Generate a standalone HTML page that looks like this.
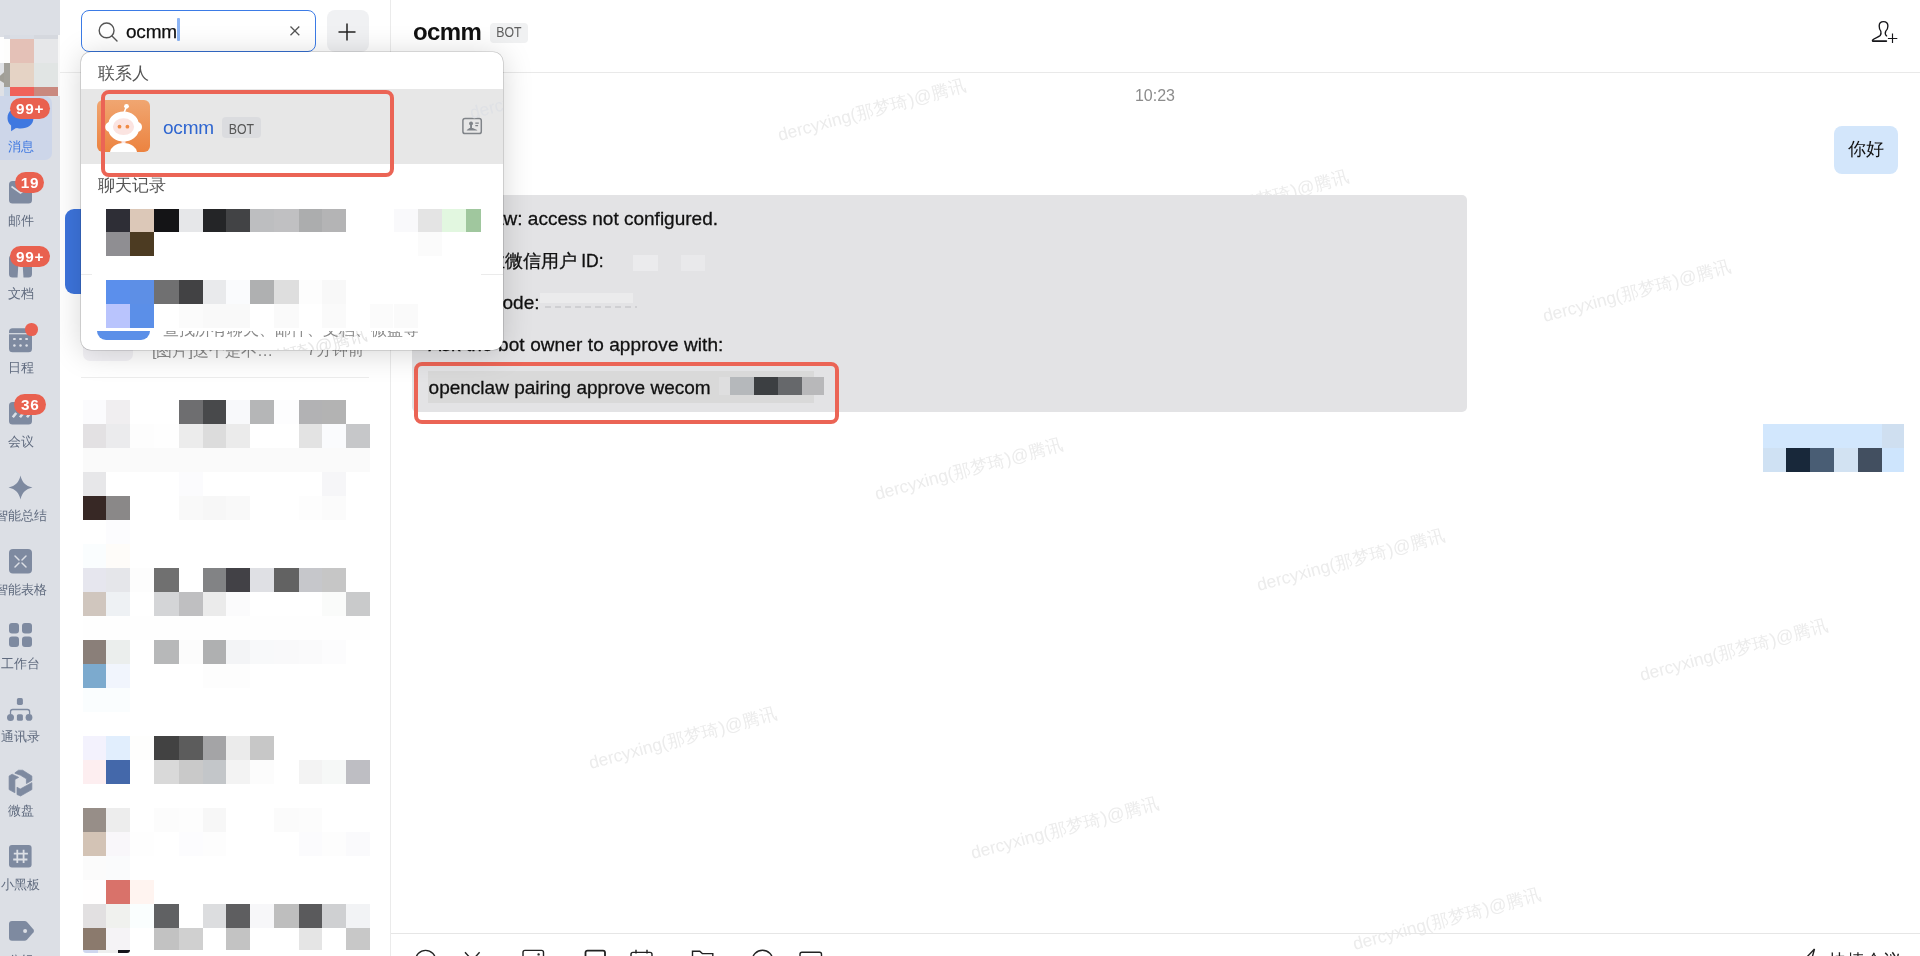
<!DOCTYPE html>
<html lang="zh"><head><meta charset="utf-8"><title>ocmm</title>
<style>
html,body{margin:0;padding:0}
body{width:1920px;height:956px;position:relative;overflow:hidden;background:#fff;will-change:transform;font-family:"Liberation Sans",sans-serif;color:#111}
.abs{position:absolute}
.c{position:absolute;display:block}
#side{position:absolute;left:0;top:0;width:60px;height:956px;background:#dcdfe5;overflow:hidden}
.sel{position:absolute;left:-8px;top:96px;width:60px;height:64px;border-radius:7px;background:#cdd6e9}
.lb{position:absolute;left:-40px;width:121px;text-align:center;font-size:13px;line-height:18px;white-space:nowrap}
.bdb{position:absolute;height:20.8px;border-radius:10.5px;background:#e9614f}
.bd{position:absolute;height:20.8px;color:#fff;font-weight:bold;font-size:15.3px;line-height:22px;text-align:center;letter-spacing:.75px;text-indent:.4px}
#list{position:absolute;left:60px;top:0;width:330px;height:956px;background:#fff;border-right:1px solid #ebebeb}
.wm{position:absolute;width:220px;text-align:center;font-size:17.5px;line-height:20px;color:#ececec;transform:rotate(-15deg);white-space:nowrap}
#popup{position:absolute;left:81px;top:52px;width:422px;height:298px;border-radius:10px;background:#fff;box-shadow:0 3px 30px rgba(0,0,0,.17),0 0 0 .6px rgba(0,0,0,.22);overflow:hidden}
.redbox{position:absolute;border:4.1px solid #eb6455;border-radius:8px;box-sizing:border-box}
.sec{position:absolute;left:17px;font-size:17px;line-height:22px;color:#555}
.bot{position:absolute;font-size:14.3px;text-align:center;color:#555;transform:scaleX(.86)}
#bubble{position:absolute;left:412px;top:195px;width:1055px;height:216.5px;border-radius:5px;background:#e3e3e5}
.ln{position:absolute;left:16.6px;font-size:19px;line-height:24px;white-space:nowrap;color:#111;-webkit-text-stroke:.3px #111}
.ln b{font-weight:normal;font-size:18px}
</style></head><body>

<!-- chat area -->
<div class="abs" style="left:391px;top:72px;width:1529px;height:1px;background:#e9e9e9"></div>
<div class="abs" style="left:413px;top:17px;font-size:24px;line-height:30px;font-weight:bold;letter-spacing:-.6px;color:#111">ocmm</div>
<div class="abs" style="left:490px;top:22.5px;width:38px;height:20px;border-radius:4px;background:#f0f1f2"></div><div class="bot" style="left:490px;top:22.3px;width:38px;height:20px;line-height:20px;color:#606060">BOT</div>
<svg class="abs" style="left:1860px;top:10px" width="50" height="45" viewBox="0 0 50 45" fill="none" stroke="#16161a" stroke-linecap="round" stroke-linejoin="round"><path d="M26.6 25.4 C25.2 24 25.1 22 25.7 20.7 C27.2 19.5 27.9 17.5 27.9 15.5 C27.9 12.8 26.3 11.1 23.5 11.1 C20.7 11.1 19.2 12.8 19.2 15.5 C19.2 17.5 19.6 19.3 20.8 20.6 C21.3 22.5 21 24 20.2 25 C18.5 26.8 14 27.5 12.5 29.6 Q12.2 30.9 13.6 30.9" stroke-width="1.35" transform="translate(0 .5)"/><path d="M13.4 31.1 L26.3 31.1" stroke-width="1.8"/><path d="M27.9 28.5 L37.3 28.5 M32.5 23.4 L32.5 33.1" stroke-width="1.15" stroke-linecap="butt"/></svg>
<div class="abs" style="left:1105px;top:86.8px;width:100px;text-align:center;font-size:16px;line-height:18px;color:#8c8c8c">10:23</div>
<div class="wm" style="left:762.4px;top:100.2px">dercyxing(那梦琦)@腾讯</div><div class="wm" style="left:1144.8px;top:190.7px">dercyxing(那梦琦)@腾讯</div><div class="wm" style="left:1527.2px;top:281.2px">dercyxing(那梦琦)@腾讯</div><div class="wm" style="left:858.7px;top:459.3px">dercyxing(那梦琦)@腾讯</div><div class="wm" style="left:1241.1px;top:549.8px">dercyxing(那梦琦)@腾讯</div><div class="wm" style="left:1623.5px;top:640.3px">dercyxing(那梦琦)@腾讯</div><div class="wm" style="left:572.6px;top:727.9px">dercyxing(那梦琦)@腾讯</div><div class="wm" style="left:955.0px;top:818.4px">dercyxing(那梦琦)@腾讯</div><div class="wm" style="left:1337.4px;top:908.9px">dercyxing(那梦琦)@腾讯</div>
<div class="abs" style="left:1834px;top:126px;width:64px;height:47.5px;border-radius:8px;background:#d3e6fb"></div><div class="abs" style="left:1834px;top:126px;width:64px;height:47.5px;text-align:center;font-size:18px;line-height:47px;color:#111">你好</div>

<div id="bubble">
  <div class="ln" style="top:12.1px">OpenClaw: access not configured.</div>
  <div class="ln" style="top:54.2px;left:auto;right:890.2px"><b>您的企业微信用户</b></div>
  <div class="ln" style="top:54.2px;left:169.2px;font-size:17.5px">ID:</div>
  <div class="ln" style="top:96.3px">Pairing code:</div>
  <div class="ln" style="top:138.4px;letter-spacing:.1px">Ask the bot owner to approve with:</div>
  <div class="abs" style="left:16px;top:176.3px;width:385.5px;height:31.9px;background:#d9d9d9"></div>
  <div class="ln" style="top:180.6px">openclaw pairing approve wecom</div>
  <i class="c" style="left:221px;top:60px;width:25px;height:16px;background:#ebebed"></i>
  <i class="c" style="left:269px;top:60px;width:24px;height:16px;background:#e9e9eb"></i>
  <i class="c" style="left:128px;top:98px;width:93px;height:10px;background:#ebebec"></i>
  <i class="c" style="left:133px;top:111px;width:92px;height:2.4px;background:repeating-linear-gradient(90deg,#cfcfd2 0,#cfcfd2 6px,rgba(0,0,0,0) 6px,rgba(0,0,0,0) 10px)"></i>
</div>
<i class="c" style="left:719px;top:377px;width:11px;height:18px;background:#dededf"></i><i class="c" style="left:730px;top:377px;width:24px;height:18px;background:#b5b8bb"></i><i class="c" style="left:754px;top:377px;width:24px;height:18px;background:#3c3f42"></i><i class="c" style="left:778px;top:377px;width:24px;height:18px;background:#66686b"></i><i class="c" style="left:802px;top:377px;width:22px;height:18px;background:#b8b8ba"></i>
<div class="redbox" style="left:414px;top:362px;width:425px;height:62px"></div>
<i class="c" style="left:1763px;top:424px;width:119px;height:24px;background:#d2e7fd"></i><i class="c" style="left:1882px;top:424px;width:22px;height:24px;background:#cfdff0"></i><i class="c" style="left:1763px;top:448px;width:23px;height:24px;background:#cfe1f3"></i><i class="c" style="left:1786px;top:448px;width:24px;height:24px;background:#18283a"></i><i class="c" style="left:1810px;top:448px;width:24px;height:24px;background:#495d74"></i><i class="c" style="left:1834px;top:448px;width:24px;height:24px;background:#d2e2f2"></i><i class="c" style="left:1858px;top:448px;width:24px;height:24px;background:#424f60"></i><i class="c" style="left:1882px;top:448px;width:22px;height:24px;background:#cee5fd"></i>

<!-- input toolbar -->
<div class="abs" style="left:391px;top:933px;width:1529px;height:1px;background:#e6e6e6"></div>
<svg class="abs" style="left:410px;top:946px" width="420" height="14" viewBox="0 0 420 14" fill="none" stroke="#222" stroke-width="1.4">
<circle cx="15.6" cy="14.4" r="10"/>
<path d="M55 6.2 L70 23 M69.6 6.2 L54.6 23"/>
<rect x="113" y="4.4" width="20.5" height="18" rx="2"/><circle cx="128.6" cy="8.4" r="0.5"/>
<rect x="175.5" y="4.6" width="19.5" height="18" rx="2" stroke-width="1.8"/>
<rect x="221" y="6.4" width="21" height="18" rx="2"/><path d="M226 3.8 L226 7.5 M237 3.8 L237 7.5"/>
<path d="M282.5 22 L282.5 5.2 L289.8 5.2 L292.3 7.6 L302.8 7.6 L302.8 22"/>
<circle cx="352.5" cy="14.6" r="10.3"/>
<rect x="390" y="6.2" width="21.5" height="16" rx="2"/>
</svg>
<svg class="abs" style="left:1800px;top:946px" width="20" height="12" viewBox="0 0 20 12" fill="none" stroke="#222" stroke-width="1.4"><path d="M14.5 3 L6 12 L12 12 L14.5 3 Z"/></svg>
<div class="abs" style="left:1829px;top:950px;font-size:18px;line-height:22px;color:#222;white-space:nowrap">快捷会议</div>

<!-- chat list -->
<div id="list">
  <div class="abs" style="left:0;top:72px;width:330px;height:1px;background:#ededed"></div>
  <div class="abs" style="left:5px;top:209px;width:40px;height:85px;border-radius:9px;background:#3d74dc"></div>
  <div class="abs" style="left:23px;top:330px;width:50px;height:31px;border-radius:7px;background:#f3f2f6"></div>
  <div class="abs" style="left:92px;top:340px;font-size:16.2px;line-height:20px;color:#8c8c8c;white-space:nowrap">[图片]这个是不…</div>
  <div class="abs" style="right:26px;top:340px;font-size:15.6px;line-height:20px;color:#8c8c8c;white-space:nowrap">7分钟前</div>
  <div class="abs" style="left:21px;top:377px;width:288px;height:1px;background:#ededed"></div>
</div>
<i class="c" style="left:82.6px;top:400px;width:23.4px;height:24px;background:#fbfbfd"></i><i class="c" style="left:106px;top:400px;width:23.8px;height:24px;background:#f0eef0"></i><i class="c" style="left:178.6px;top:400px;width:24.1px;height:24px;background:#6e6e70"></i><i class="c" style="left:202.7px;top:400px;width:23.3px;height:24px;background:#48494b"></i><i class="c" style="left:226px;top:400px;width:23.7px;height:24px;background:#f8f9fb"></i><i class="c" style="left:249.7px;top:400px;width:24.0px;height:24px;background:#b5b6b7"></i><i class="c" style="left:273.7px;top:400px;width:24.9px;height:24px;background:#fdfdfe"></i><i class="c" style="left:298.6px;top:400px;width:23.7px;height:24px;background:#b2b2b4"></i><i class="c" style="left:322.3px;top:400px;width:23.7px;height:24px;background:#b3b3b3"></i><i class="c" style="left:82.6px;top:424px;width:23.4px;height:24px;background:#e3e1e3"></i><i class="c" style="left:106px;top:424px;width:23.8px;height:24px;background:#ebebed"></i><i class="c" style="left:129.8px;top:424px;width:24.0px;height:24px;background:#fdfdfd"></i><i class="c" style="left:153.8px;top:424px;width:24.8px;height:24px;background:#fefefe"></i><i class="c" style="left:178.6px;top:424px;width:24.1px;height:24px;background:#ececec"></i><i class="c" style="left:202.7px;top:424px;width:23.3px;height:24px;background:#dcdcdc"></i><i class="c" style="left:226px;top:424px;width:23.7px;height:24px;background:#ebebeb"></i><i class="c" style="left:298.6px;top:424px;width:23.7px;height:24px;background:#e3e3e3"></i><i class="c" style="left:322.3px;top:424px;width:23.7px;height:24px;background:#fafbfd"></i><i class="c" style="left:346px;top:424px;width:23.6px;height:24px;background:#c6c7c9"></i><i class="c" style="left:82.6px;top:448px;width:23.4px;height:24px;background:#fafafa"></i><i class="c" style="left:106px;top:448px;width:23.8px;height:24px;background:#fafafa"></i><i class="c" style="left:129.8px;top:448px;width:24.0px;height:24px;background:#fafafa"></i><i class="c" style="left:153.8px;top:448px;width:24.8px;height:24px;background:#fafafa"></i><i class="c" style="left:178.6px;top:448px;width:24.1px;height:24px;background:#fafafa"></i><i class="c" style="left:202.7px;top:448px;width:23.3px;height:24px;background:#fafafa"></i><i class="c" style="left:226px;top:448px;width:23.7px;height:24px;background:#fafafa"></i><i class="c" style="left:249.7px;top:448px;width:24.0px;height:24px;background:#fafafa"></i><i class="c" style="left:273.7px;top:448px;width:24.9px;height:24px;background:#fafafa"></i><i class="c" style="left:298.6px;top:448px;width:23.7px;height:24px;background:#fafafa"></i><i class="c" style="left:322.3px;top:448px;width:23.7px;height:24px;background:#fafafa"></i><i class="c" style="left:346px;top:448px;width:23.6px;height:24px;background:#fafafa"></i><i class="c" style="left:82.6px;top:472px;width:23.4px;height:24px;background:#e7e7e9"></i><i class="c" style="left:178.6px;top:472px;width:24.1px;height:24px;background:#fbfbfd"></i><i class="c" style="left:322.3px;top:472px;width:23.7px;height:24px;background:#f6f6f8"></i><i class="c" style="left:82.6px;top:496px;width:23.4px;height:24px;background:#372825"></i><i class="c" style="left:106px;top:496px;width:23.8px;height:24px;background:#8a8888"></i><i class="c" style="left:178.6px;top:496px;width:24.1px;height:24px;background:#f9f9f9"></i><i class="c" style="left:202.7px;top:496px;width:23.3px;height:24px;background:#f7f7f7"></i><i class="c" style="left:226px;top:496px;width:23.7px;height:24px;background:#f9f9f9"></i><i class="c" style="left:298.6px;top:496px;width:23.7px;height:24px;background:#fdfdfd"></i><i class="c" style="left:322.3px;top:496px;width:23.7px;height:24px;background:#fbfbfb"></i><i class="c" style="left:106px;top:520px;width:23.8px;height:24px;background:#fcfcfe"></i><i class="c" style="left:82.6px;top:544px;width:23.4px;height:24px;background:#fafdfe"></i><i class="c" style="left:106px;top:544px;width:23.8px;height:24px;background:#fefcf9"></i><i class="c" style="left:82.6px;top:568px;width:23.4px;height:24px;background:#e6e6ee"></i><i class="c" style="left:106px;top:568px;width:23.8px;height:24px;background:#e5e6ea"></i><i class="c" style="left:129.8px;top:568px;width:24.0px;height:24px;background:#fdfdfd"></i><i class="c" style="left:153.8px;top:568px;width:24.8px;height:24px;background:#707070"></i><i class="c" style="left:202.7px;top:568px;width:23.3px;height:24px;background:#828385"></i><i class="c" style="left:226px;top:568px;width:23.7px;height:24px;background:#424146"></i><i class="c" style="left:249.7px;top:568px;width:24.0px;height:24px;background:#dfe0e4"></i><i class="c" style="left:273.7px;top:568px;width:24.9px;height:24px;background:#626262"></i><i class="c" style="left:298.6px;top:568px;width:23.7px;height:24px;background:#c6c7cb"></i><i class="c" style="left:322.3px;top:568px;width:23.7px;height:24px;background:#c6c6c6"></i><i class="c" style="left:82.6px;top:592px;width:23.4px;height:24px;background:#d0c6be"></i><i class="c" style="left:106px;top:592px;width:23.8px;height:24px;background:#eef1f4"></i><i class="c" style="left:153.8px;top:592px;width:24.8px;height:24px;background:#d4d5d7"></i><i class="c" style="left:178.6px;top:592px;width:24.1px;height:24px;background:#bfbfc1"></i><i class="c" style="left:202.7px;top:592px;width:23.3px;height:24px;background:#ebebeb"></i><i class="c" style="left:226px;top:592px;width:23.7px;height:24px;background:#fbfbfc"></i><i class="c" style="left:322.3px;top:592px;width:23.7px;height:24px;background:#fafbfa"></i><i class="c" style="left:346px;top:592px;width:23.6px;height:24px;background:#c9cacb"></i><i class="c" style="left:82.6px;top:616px;width:23.4px;height:24px;background:#fefefe"></i><i class="c" style="left:106px;top:616px;width:23.8px;height:24px;background:#fefefe"></i><i class="c" style="left:129.8px;top:616px;width:24.0px;height:24px;background:#fefefe"></i><i class="c" style="left:153.8px;top:616px;width:24.8px;height:24px;background:#fefefe"></i><i class="c" style="left:178.6px;top:616px;width:24.1px;height:24px;background:#fefefe"></i><i class="c" style="left:202.7px;top:616px;width:23.3px;height:24px;background:#fefefe"></i><i class="c" style="left:226px;top:616px;width:23.7px;height:24px;background:#fefefe"></i><i class="c" style="left:249.7px;top:616px;width:24.0px;height:24px;background:#fefefe"></i><i class="c" style="left:273.7px;top:616px;width:24.9px;height:24px;background:#fefefe"></i><i class="c" style="left:298.6px;top:616px;width:23.7px;height:24px;background:#fefefe"></i><i class="c" style="left:322.3px;top:616px;width:23.7px;height:24px;background:#fefefe"></i><i class="c" style="left:346px;top:616px;width:23.6px;height:24px;background:#fefefe"></i><i class="c" style="left:82.6px;top:640px;width:23.4px;height:24px;background:#8a7f79"></i><i class="c" style="left:106px;top:640px;width:23.8px;height:24px;background:#ebeeed"></i><i class="c" style="left:153.8px;top:640px;width:24.8px;height:24px;background:#b7b8b9"></i><i class="c" style="left:178.6px;top:640px;width:24.1px;height:24px;background:#fcfcfc"></i><i class="c" style="left:202.7px;top:640px;width:23.3px;height:24px;background:#afb0b1"></i><i class="c" style="left:226px;top:640px;width:23.7px;height:24px;background:#f3f4f6"></i><i class="c" style="left:249.7px;top:640px;width:24.0px;height:24px;background:#f8f9fa"></i><i class="c" style="left:273.7px;top:640px;width:24.9px;height:24px;background:#f9f9fa"></i><i class="c" style="left:298.6px;top:640px;width:23.7px;height:24px;background:#fafafb"></i><i class="c" style="left:322.3px;top:640px;width:23.7px;height:24px;background:#fcfcfd"></i><i class="c" style="left:82.6px;top:664px;width:23.4px;height:24px;background:#7caace"></i><i class="c" style="left:106px;top:664px;width:23.8px;height:24px;background:#f1f5fd"></i><i class="c" style="left:202.7px;top:664px;width:23.3px;height:24px;background:#fdfdfd"></i><i class="c" style="left:226px;top:664px;width:23.7px;height:24px;background:#fdfdfd"></i><i class="c" style="left:82.6px;top:688px;width:23.4px;height:24px;background:#fafdfe"></i><i class="c" style="left:106px;top:688px;width:23.8px;height:24px;background:#fafdfe"></i><i class="c" style="left:82.6px;top:736px;width:23.4px;height:24px;background:#f3f2fd"></i><i class="c" style="left:106px;top:736px;width:23.8px;height:24px;background:#e1eefd"></i><i class="c" style="left:129.8px;top:736px;width:24.0px;height:24px;background:#fefefd"></i><i class="c" style="left:153.8px;top:736px;width:24.8px;height:24px;background:#424242"></i><i class="c" style="left:178.6px;top:736px;width:24.1px;height:24px;background:#5c5c5c"></i><i class="c" style="left:202.7px;top:736px;width:23.3px;height:24px;background:#a4a4a6"></i><i class="c" style="left:226px;top:736px;width:23.7px;height:24px;background:#ebebeb"></i><i class="c" style="left:249.7px;top:736px;width:24.0px;height:24px;background:#c7c7c7"></i><i class="c" style="left:82.6px;top:760px;width:23.4px;height:24px;background:#fdeef0"></i><i class="c" style="left:106px;top:760px;width:23.8px;height:24px;background:#4468aa"></i><i class="c" style="left:153.8px;top:760px;width:24.8px;height:24px;background:#d9d9d9"></i><i class="c" style="left:178.6px;top:760px;width:24.1px;height:24px;background:#c9c9c9"></i><i class="c" style="left:202.7px;top:760px;width:23.3px;height:24px;background:#c3c6c9"></i><i class="c" style="left:226px;top:760px;width:23.7px;height:24px;background:#f3f3f3"></i><i class="c" style="left:249.7px;top:760px;width:24.0px;height:24px;background:#fcfcfc"></i><i class="c" style="left:298.6px;top:760px;width:23.7px;height:24px;background:#f3f3f3"></i><i class="c" style="left:322.3px;top:760px;width:23.7px;height:24px;background:#f6f8f7"></i><i class="c" style="left:346px;top:760px;width:23.6px;height:24px;background:#bebec3"></i><i class="c" style="left:82.6px;top:808px;width:23.4px;height:24px;background:#978e88"></i><i class="c" style="left:106px;top:808px;width:23.8px;height:24px;background:#ededed"></i><i class="c" style="left:153.8px;top:808px;width:24.8px;height:24px;background:#fcfcfc"></i><i class="c" style="left:178.6px;top:808px;width:24.1px;height:24px;background:#fdfdfd"></i><i class="c" style="left:202.7px;top:808px;width:23.3px;height:24px;background:#f7f7f7"></i><i class="c" style="left:273.7px;top:808px;width:24.9px;height:24px;background:#fbfbfb"></i><i class="c" style="left:298.6px;top:808px;width:23.7px;height:24px;background:#fcfcfc"></i><i class="c" style="left:82.6px;top:832px;width:23.4px;height:24px;background:#d3c3b5"></i><i class="c" style="left:106px;top:832px;width:23.8px;height:24px;background:#f9f7fa"></i><i class="c" style="left:129.8px;top:832px;width:24.0px;height:24px;background:#fefefe"></i><i class="c" style="left:178.6px;top:832px;width:24.1px;height:24px;background:#fcfcfe"></i><i class="c" style="left:202.7px;top:832px;width:23.3px;height:24px;background:#fdfdfd"></i><i class="c" style="left:298.6px;top:832px;width:23.7px;height:24px;background:#fbfbfd"></i><i class="c" style="left:322.3px;top:832px;width:23.7px;height:24px;background:#fdfdfd"></i><i class="c" style="left:346px;top:832px;width:23.6px;height:24px;background:#fafafc"></i><i class="c" style="left:82.6px;top:856px;width:23.4px;height:24px;background:#fbfbfb"></i><i class="c" style="left:106px;top:856px;width:23.8px;height:24px;background:#fafbfc"></i><i class="c" style="left:82.6px;top:880px;width:23.4px;height:24px;background:#fffefe"></i><i class="c" style="left:106px;top:880px;width:23.8px;height:24px;background:#d9726a"></i><i class="c" style="left:129.8px;top:880px;width:24.0px;height:24px;background:#fff4f0"></i><i class="c" style="left:82.6px;top:904px;width:23.4px;height:24px;background:#e2e0e1"></i><i class="c" style="left:106px;top:904px;width:23.8px;height:24px;background:#f0f1ee"></i><i class="c" style="left:129.8px;top:904px;width:24.0px;height:24px;background:#fafefe"></i><i class="c" style="left:153.8px;top:904px;width:24.8px;height:24px;background:#606163"></i><i class="c" style="left:202.7px;top:904px;width:23.3px;height:24px;background:#dcdddf"></i><i class="c" style="left:226px;top:904px;width:23.7px;height:24px;background:#5e5e60"></i><i class="c" style="left:249.7px;top:904px;width:24.0px;height:24px;background:#f7f7f9"></i><i class="c" style="left:273.7px;top:904px;width:24.9px;height:24px;background:#bebebe"></i><i class="c" style="left:298.6px;top:904px;width:23.7px;height:24px;background:#5a5a5c"></i><i class="c" style="left:322.3px;top:904px;width:23.7px;height:24px;background:#cfd0d2"></i><i class="c" style="left:346px;top:904px;width:23.6px;height:24px;background:#f2f3f5"></i><i class="c" style="left:82.6px;top:928px;width:23.4px;height:22px;background:#8b7a6d"></i><i class="c" style="left:106px;top:928px;width:23.8px;height:22px;background:#f5f3f6"></i><i class="c" style="left:153.8px;top:928px;width:24.8px;height:22px;background:#c2c2c2"></i><i class="c" style="left:178.6px;top:928px;width:24.1px;height:22px;background:#d0d0d0"></i><i class="c" style="left:226px;top:928px;width:23.7px;height:22px;background:#c3c3c3"></i><i class="c" style="left:298.6px;top:928px;width:23.7px;height:22px;background:#e5e5e5"></i><i class="c" style="left:346px;top:928px;width:23.6px;height:22px;background:#c8c8c8"></i>
<div class="abs" style="left:83px;top:950px;width:47px;height:2.6px;border-radius:0 0 7px 7px;background:linear-gradient(90deg,#cfd6ee 0,#cfd6ee 32%,#eee 32%,#eee 74%,#15151b 74%)"></div>

<!-- search -->
<div class="abs" style="left:81px;top:10px;width:235px;height:41.5px;box-sizing:border-box;border:1.5px solid #3b7be6;border-radius:8px;background:#fff"></div>
<svg class="abs" style="left:96px;top:20px" width="24" height="24" viewBox="0 0 24 24" fill="none" stroke="#555" stroke-width="1.4"><circle cx="10.6" cy="10.4" r="7.4"/><path d="M16 16 L21 21" stroke-linecap="round"/></svg>
<div class="abs" style="left:126px;top:19.6px;font-size:19px;line-height:24px;color:#111;letter-spacing:-.2px;-webkit-text-stroke:.25px #111">ocmm</div>
<div class="abs" style="left:177px;top:18.4px;width:2.6px;height:23px;border-radius:1px;background:#8db5f5"></div>
<svg class="abs" style="left:288px;top:24.3px" width="14" height="14" viewBox="0 0 14 14" stroke="#555" stroke-width="1.3"><path d="M2.5 2.5 L11.3 11.3 M11.3 2.5 L2.5 11.3"/></svg>
<div class="abs" style="left:327px;top:10px;width:42px;height:41.5px;border-radius:8px;background:#f0f1f3"></div>
<svg class="abs" style="left:337px;top:21.8px" width="20" height="20" viewBox="0 0 20 20" stroke="#222" stroke-width="1.5"><path d="M10 1.5 L10 18.5 M1.5 10 L18.5 10"/></svg>

<!-- popup -->
<div id="popup">
  <div class="sec" style="top:11px">联系人</div>
  <div class="abs" style="left:0;top:37px;width:422px;height:74.5px;background:#e7e7e7"></div>
  <svg class="abs" style="left:16px;top:48px" width="53" height="52" viewBox="0 0 53 52">
    <defs><linearGradient id="og" x1="0" y1="0" x2="0" y2="1"><stop offset="0" stop-color="#f0a671"/><stop offset="1" stop-color="#ec8340"/></linearGradient><clipPath id="ac"><rect width="53" height="52" rx="6"/></clipPath></defs>
    <g clip-path="url(#ac)"><rect width="53" height="52" fill="url(#og)"/>
    <path d="M27.2 12.5 L29.2 7" stroke="#fff" stroke-width="1.6"/><circle cx="29.5" cy="6.3" r="2.4" fill="#fff"/>
    <path d="M26.6 11.5 C35 11.5 40.5 17 41.5 22 Q45 23.5 45 27 Q45 30.5 41.5 31.8 C40 37 34.5 41.5 26.6 41.5 C18.7 41.5 13.2 37 11.7 31.8 Q8.2 30.5 8.2 27 Q8.2 23.5 11.7 22 C12.7 17 18.2 11.5 26.6 11.5 Z" fill="#fff"/>
    <ellipse cx="26.5" cy="26.7" rx="10.6" ry="8.4" fill="#fbe4e1"/>
    <circle cx="22.5" cy="26.7" r="1.9" fill="#f08a45"/><circle cx="30.4" cy="26.7" r="1.9" fill="#f08a45"/>
    <rect x="24.5" y="41" width="4" height="2.5" fill="#fbe4e1"/>
    <ellipse cx="26.5" cy="53" rx="13.6" ry="10" fill="#fff"/></g>
  </svg>
  <div class="abs" style="left:82px;top:64px;font-size:19px;line-height:24px;color:#2f66d0;letter-spacing:-.2px">ocmm</div>
  <div class="abs" style="left:141px;top:65.3px;width:39px;height:20.5px;border-radius:4px;background:#dbdcdf"></div><div class="bot" style="left:141px;top:66.6px;width:39px;height:20.5px;line-height:20.5px">BOT</div>
  <svg class="abs" style="left:380px;top:65.4px" width="22" height="18" viewBox="0 0 22 18" fill="none" stroke="#808489" stroke-width="1.5"><rect x="1.9" y="1.4" width="18.4" height="15.2" rx="2.2"/><g fill="#808489" stroke="none"><circle cx="10.05" cy="6.4" r="1.95"/><rect x="9.1" y="7.6" width="1.9" height="4.4"/><path d="M5.8 13.5 L16.2 13.5 L16.2 12.9 L11.6 11.1 L8.5 11.1 L5.8 12.9 Z"/></g><path d="M14.3 6.1 L17.8 6.1 M14.3 8.7 L17.1 8.7" stroke-width="1.2"/></svg>
  <div class="wm" style="left:373px;top:25.5px;color:#dfe1e5">dercyxing(那梦琦)@腾讯</div>
  <div class="sec" style="top:123px">聊天记录</div>
  <div class="wm" style="left:82px;top:297px;color:#e6e6e6">dercyxing(那梦琦)@腾讯</div>
  <div class="abs" style="left:0;top:222px;width:422px;height:1px;background:#ebebeb"></div>
  <div class="abs" style="left:11px;top:150px;width:389px;height:129px;background:#fff"></div>
  <div class="abs" style="left:16px;top:279px;width:53px;height:9px;border-radius:0 0 9px 9px;background:#5b8fe8"></div>
  <div class="abs" style="left:82px;top:279px;width:270px;height:6.5px;overflow:hidden"><div style="position:absolute;left:0;top:-11.5px;font-size:16.3px;line-height:18px;color:#888;white-space:nowrap">查找所有聊天、邮件、文档、微盘等</div></div>
</div>
<i class="c" style="left:106px;top:208.8px;width:23.8px;height:23.4px;background:#2e2e36"></i><i class="c" style="left:129.8px;top:208.8px;width:24.0px;height:23.4px;background:#dcc8b8"></i><i class="c" style="left:153.8px;top:208.8px;width:24.8px;height:23.4px;background:#141416"></i><i class="c" style="left:178.6px;top:208.8px;width:24.1px;height:23.4px;background:#e6e7e9"></i><i class="c" style="left:202.7px;top:208.8px;width:23.3px;height:23.4px;background:#242527"></i><i class="c" style="left:226px;top:208.8px;width:23.7px;height:23.4px;background:#424345"></i><i class="c" style="left:249.7px;top:208.8px;width:24.0px;height:23.4px;background:#bdbec0"></i><i class="c" style="left:273.7px;top:208.8px;width:24.9px;height:23.4px;background:#c0c0c2"></i><i class="c" style="left:298.6px;top:208.8px;width:23.7px;height:23.4px;background:#acadae"></i><i class="c" style="left:322.3px;top:208.8px;width:23.7px;height:23.4px;background:#b4b4b5"></i><i class="c" style="left:393.5px;top:208.8px;width:24.5px;height:23.4px;background:#f9f9fb"></i><i class="c" style="left:418px;top:208.8px;width:23.5px;height:23.4px;background:#e4e4e4"></i><i class="c" style="left:441.5px;top:208.8px;width:24.0px;height:23.4px;background:#e2f7e0"></i><i class="c" style="left:106px;top:232px;width:23.8px;height:24px;background:#8f8e92"></i><i class="c" style="left:129.8px;top:232px;width:24.0px;height:24px;background:#4c3b22"></i><i class="c" style="left:418px;top:232px;width:23.5px;height:24px;background:#fbfbfb"></i><i class="c" style="left:106px;top:280px;width:23.8px;height:24px;background:#5b8fec"></i><i class="c" style="left:129.8px;top:280px;width:24.0px;height:24px;background:#5d8fe6"></i><i class="c" style="left:153.8px;top:280px;width:24.8px;height:24px;background:#707071"></i><i class="c" style="left:178.6px;top:280px;width:24.1px;height:24px;background:#424244"></i><i class="c" style="left:202.7px;top:280px;width:23.3px;height:24px;background:#e9eaec"></i><i class="c" style="left:226px;top:280px;width:23.7px;height:24px;background:#fafbfd"></i><i class="c" style="left:249.7px;top:280px;width:24.0px;height:24px;background:#afb0b1"></i><i class="c" style="left:273.7px;top:280px;width:24.9px;height:24px;background:#dedede"></i><i class="c" style="left:298.6px;top:280px;width:23.7px;height:24px;background:#fdfdfd"></i><i class="c" style="left:322.3px;top:280px;width:23.7px;height:24px;background:#f8f8f8"></i><i class="c" style="left:106px;top:304px;width:23.8px;height:24px;background:#b9c4fd"></i><i class="c" style="left:129.8px;top:304px;width:24.0px;height:24px;background:#5b8fe8"></i><i class="c" style="left:178.6px;top:304px;width:24.1px;height:24px;background:#fbfbfb"></i><i class="c" style="left:202.7px;top:304px;width:23.3px;height:24px;background:#f9f9f9"></i><i class="c" style="left:226px;top:304px;width:23.7px;height:24px;background:#f9f9f9"></i><i class="c" style="left:273.7px;top:304px;width:24.9px;height:24px;background:#fafafa"></i><i class="c" style="left:322.3px;top:304px;width:23.7px;height:24px;background:#fafafa"></i><i class="c" style="left:369.6px;top:304px;width:23.9px;height:24px;background:#fbfbfb"></i><i class="c" style="left:393.5px;top:304px;width:24.5px;height:24px;background:#fafafa"></i><i class="c" style="left:466px;top:208.8px;width:15px;height:23.4px;background:#a0c79e"></i>
<div class="redbox" style="left:101px;top:89.8px;width:293px;height:87px"></div>

<!-- sidebar -->
<div id="side"><div class="sel"></div><svg class="abs" style="left:4px;top:104px" width="36" height="30" viewBox="0 0 36 30"><path d="M3.5 14 C3.5 7 9 3.5 16.5 3.5 C24 3.5 29.5 7.5 29.5 14 C29.5 20.5 24 24.5 16.5 24.5 C14.6 24.5 13.2 24.4 12 24.1 L7.1 27.3 L7.1 21.6 C4.8 19.8 3.5 17.2 3.5 14 Z" fill="#3f78e0"/></svg><div class="bdb" style="left:10px;top:98.2px;width:40px"></div><div class="bd" style="left:10px;top:98.2px;width:40px">99+</div><div class="lb" style="top:137.5px;color:#3f78e0">消息</div><svg class="abs" style="left:9px;top:181px" width="23" height="23" viewBox="0 0 23 23"><rect x="0" y="0" width="23" height="22.5" rx="3.5" fill="#7e8aa0"/><path d="M2.5 5.5 L11.5 12 L20.5 5.5" stroke="#dcdfe5" stroke-width="1.6" fill="none"/></svg><div class="bdb" style="left:15.3px;top:172.2px;width:28.9px"></div><div class="bd" style="left:15.3px;top:172.2px;width:28.9px">19</div><div class="lb" style="top:211.5px;color:#5f6a7e">邮件</div><svg class="abs" style="left:9px;top:255px" width="23" height="23" viewBox="0 0 23 23"><path d="M0 3.5 Q0 0 3.5 0 L10 0 L8.5 22.5 L3.5 22.5 Q0 22.5 0 19 Z" fill="#7e8aa0"/><path d="M13 0 L19.5 0 Q23 0 23 3.5 L23 19 Q23 22.5 19.5 22.5 L14.5 22.5 Z" fill="#7e8aa0"/></svg><div class="bdb" style="left:10px;top:245.8px;width:40px"></div><div class="bd" style="left:10px;top:245.8px;width:40px">99+</div><div class="lb" style="top:285px;color:#5f6a7e">文档</div><svg class="abs" style="left:9px;top:328px" width="30" height="25" viewBox="0 0 30 25"><rect x="0" y="0.3" width="23" height="23.9" rx="3.5" fill="#7e8aa0"/><rect x="0" y="5.1" width="23" height="1.2" fill="#dcdfe5"/><g fill="#dcdfe5"><rect x="4.1" y="9.9" width="2.6" height="2.2" rx=".6"/><rect x="10.2" y="9.9" width="2.6" height="2.2" rx=".6"/><rect x="16.3" y="9.9" width="2.6" height="2.2" rx=".6"/><circle cx="5.4" cy="17.4" r="1.25"/><circle cx="11.5" cy="17.4" r="1.25"/><circle cx="17.6" cy="17.4" r="1.25"/></g></svg><div class="abs" style="left:25px;top:323px;width:12.6px;height:12.6px;border-radius:50%;background:#ea6151"></div><div class="lb" style="top:358.5px;color:#5f6a7e">日程</div><svg class="abs" style="left:9px;top:402px" width="23" height="23" viewBox="0 0 23 23"><rect x="0" y="0" width="23" height="22.5" rx="3.5" fill="#7e8aa0"/><path d="M3.8 15.3 L7.2 11 M11 15.3 L14.4 11 M18 15.3 L20.5 12" stroke="#dcdfe5" stroke-width="2.6" fill="none"/></svg><div class="bdb" style="left:14.3px;top:394px;width:31.6px"></div><div class="bd" style="left:14.3px;top:394px;width:31.6px">36</div><div class="lb" style="top:433px;color:#5f6a7e">会议</div><svg class="abs" style="left:8px;top:475px" width="25" height="25" viewBox="-12.5 -12.5 25 25"><path d="M0 -12 C1.6 -5 5 -1.6 12 0 C5 1.6 1.6 5 0 12 C-1.6 5 -5 1.6 -12 0 C-5 -1.6 -1.6 -5 0 -12 Z" fill="#7e8aa0"/></svg><div class="lb" style="top:506.70000000000005px;color:#5f6a7e">智能总结</div><svg class="abs" style="left:9px;top:549px" width="23" height="25" viewBox="0 0 23 25"><rect x="0" y="0" width="23" height="24.5" rx="4" fill="#7e8aa0"/><path d="M6 7 L10 11 M17 7 L13 11 M6 18 L10 14 M17 18 L13 14" stroke="#dcdfe5" stroke-width="1.5" stroke-linecap="round"/></svg><div class="lb" style="top:581px;color:#5f6a7e">智能表格</div><svg class="abs" style="left:9px;top:623px" width="23" height="24" viewBox="0 0 23 24"><g fill="#7e8aa0"><rect x="0" y="0" width="10" height="10.5" rx="3"/><rect x="13" y="0" width="10" height="10.5" rx="3"/><rect x="0" y="13.5" width="10" height="10.5" rx="3"/><rect x="13" y="13.5" width="10" height="10.5" rx="3"/></g></svg><div class="lb" style="top:654.5px;color:#5f6a7e">工作台</div><svg class="abs" style="left:6px;top:697px" width="28" height="26" viewBox="0 0 28 26"><g fill="#7e8aa0"><rect x="10.9" y="1.1" width="6" height="6.8" rx="1.6"/><rect x="10.9" y="17.2" width="6" height="6.6" rx="1.6"/><circle cx="4.5" cy="20.4" r="3.5"/><circle cx="23" cy="20.4" r="3.4"/></g><path d="M4.5 17.2 L4.5 14.7 Q4.5 12.5 6.7 12.5 L21.4 12.5 Q23.6 12.5 23.6 14.7 L23.6 17.2" stroke="#7e8aa0" stroke-width="1.3" fill="none"/></svg><div class="lb" style="top:728.3px;color:#5f6a7e">通讯录</div><svg class="abs" style="left:4px;top:764px" width="34" height="36" viewBox="0 0 34 36"><g fill="#7e8aa0" stroke="#7e8aa0" stroke-width=".7" stroke-linejoin="round"><path d="M5.08 12.05 L8.1 10.17 L14.68 13.37 L10.92 15.44 L10.92 28.8 L5.08 25.6 Z"/><path d="M10.92 8.85 L14.5 6.2 L18.64 6.2 L27.86 12.05 L27.86 16.4 L22.4 19.6 L22.4 14.87 L16.57 11.3 L10.92 9.2 Z"/><path d="M12.99 23.16 L16.19 25.04 L27.86 18.64 L27.86 25.6 L16.57 32 L12.99 30.5 Z"/></g></svg><div class="lb" style="top:802px;color:#5f6a7e">微盘</div><svg class="abs" style="left:9px;top:845px" width="23" height="23" viewBox="0 0 23 23"><rect x="0" y="0" width="22.6" height="22.6" rx="3" fill="#7e8aa0"/><path d="M8.3 4.8 L8.3 18 M14.6 4.8 L14.6 18 M4.8 8.6 L18.9 8.6 M4.2 14.5 L18.4 14.5" stroke="#dcdfe5" stroke-width="1.8" fill="none"/></svg><div class="lb" style="top:875.7px;color:#5f6a7e">小黑板</div><svg class="abs" style="left:9px;top:921px" width="26" height="20" viewBox="0 0 26 20"><path d="M3 0 L15.5 0 Q17 0 18 1 L24.5 8.5 Q25.5 9.9 24.5 11.3 L18 18.8 Q17 19.8 15.5 19.8 L3 19.8 Q0 19.8 0 16.8 L0 3 Q0 0 3 0 Z" fill="#7e8aa0"/><circle cx="16.1" cy="10" r="2" fill="#dcdfe5"/></svg><div class="lb" style="top:951.5px;color:#5f6a7e">分组</div><i class="c" style="left:4px;top:35px;width:6.3px;height:4.5px;background:#d6dae2"></i><i class="c" style="left:10.3px;top:35px;width:23.7px;height:4.5px;background:#d9dde4"></i><i class="c" style="left:34px;top:35px;width:23.8px;height:4.5px;background:#d5d8de"></i><i class="c" style="left:0px;top:36.5px;width:4px;height:26.3px;background:#fefefe"></i><i class="c" style="left:4px;top:39.2px;width:6.3px;height:23.5px;background:#fdfdfc"></i><i class="c" style="left:10.3px;top:39.2px;width:23.7px;height:23.5px;background:#e4c1b7"></i><i class="c" style="left:34px;top:39.2px;width:23.8px;height:23.5px;background:#e6e7e9"></i><i class="c" style="left:0px;top:62.7px;width:4px;height:24.2px;background:#e0e2e6"></i><i class="c" style="left:4px;top:62.7px;width:6.3px;height:24.2px;background:#a3a19a"></i><i class="c" style="left:10.3px;top:62.7px;width:23.7px;height:24.2px;background:#e5d3c5"></i><i class="c" style="left:34px;top:62.7px;width:23.8px;height:24.2px;background:#e1e5e4"></i><i class="c" style="left:0px;top:86.9px;width:4px;height:9.1px;background:#dfe1e6"></i><i class="c" style="left:4px;top:86.9px;width:6.3px;height:9.1px;background:#c8d5e6"></i><i class="c" style="left:10.3px;top:86.9px;width:23.7px;height:9.1px;background:#f0625a"></i><i class="c" style="left:34px;top:86.9px;width:23.8px;height:9.1px;background:#c9897f"></i><i class="c" style="left:57.8px;top:35px;width:2.2px;height:61px;background:#f7f7f7"></i><svg class="abs" style="left:0;top:70px" width="4" height="16" viewBox="0 0 4 16"><path d="M4 2.2 L0 5.8 L0 10.6 L4 13 Z" fill="#a09e96"/></svg></div>
</body></html>
